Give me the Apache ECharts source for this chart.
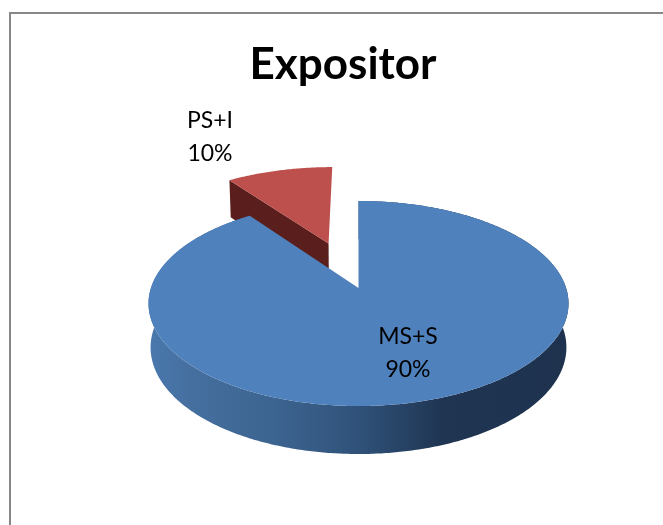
<!DOCTYPE html>
<html>
<head>
<meta charset="utf-8">
<title>Expositor</title>
<style>
  html, body { margin: 0; padding: 0; background: #fff; }
  #main { width: 663px; height: 525px; }
</style>
</head>
<body>
<div id="main"></div>
<script src="https://cdn.jsdelivr.net/npm/echarts@6/dist/echarts.min.js"></script>
<script>
var categories = ['MS+S', 'PS+I'];
var seriesValues = [90, 10];

var chartTitle = 'Expositor';
var fontName = 'Lato, "Open Sans", sans-serif';

// how far each slice is pulled out, in radius units
var sliceExplode = [0, 0.5];
var topColors = ['#4f81bd', '#bd4f4c'];
var cutColors = ['#1f3350', '#5a1f1c'];
var labelPos = [[408, 353], [210, 137]];

// perspective of the pie disc
var view = { cx: 358.5, cy: 288, rx: 207.6, ry: 100.2, persp: 0.151, shrink: 0.99 };

var wallGradient = new echarts.graphic.LinearGradient(0, 0, 1, 0, [
  { offset: 0, color: '#4a78ae' },
  { offset: 0.1, color: '#456f9f' },
  { offset: 0.3, color: '#3c6490' },
  { offset: 0.5, color: '#30527a' },
  { offset: 0.7, color: '#1f3552' },
  { offset: 1, color: '#1e324e' }
]);

// disc coords to screen, level 1 is the underside of the pie
function project(x, z, level) {
  var d = 1 - view.persp * z;
  var sx = view.rx * x / d;
  var sy = view.ry * z / d;
  if (level) {
    return [view.cx + sx * view.shrink, view.cy + sy + 43.2 + 4.8 * z];
  }
  return [view.cx + sx, view.cy + sy];
}

function renderSlice(params, api) {
  var i = params.dataIndex;
  var total = 0, before = 0;
  for (var k = 0; k < seriesValues.length; k++) {
    total += seriesValues[k];
    if (k < i) before += seriesValues[k];
  }
  var value = api.value(0);
  var a0 = before / total * Math.PI * 2;
  var a1 = (before + value) / total * Math.PI * 2;
  var mid = (a0 + a1) / 2;
  var ax = Math.sin(mid) * sliceExplode[i];
  var az = -Math.cos(mid) * sliceExplode[i];

  var topRim = [], lowRim = [];
  var steps = Math.ceil((a1 - a0) / 0.01);
  for (var s = 0; s <= steps; s++) {
    var a = a0 + (a1 - a0) * s / steps;
    topRim.push(project(ax + Math.sin(a), az - Math.cos(a), 0));
    lowRim.push(project(ax + Math.sin(a), az - Math.cos(a), 1));
  }
  var apexTop = project(ax, az, 0);
  var apexLow = project(ax, az, 1);
  var base = i === 0 ? 10 : 0;

  var children = [{
    type: 'polygon',
    z2: base + 1,
    shape: { points: [apexTop, topRim[0], lowRim[0], apexLow] },
    style: { fill: cutColors[i] }
  }, {
    type: 'polygon',
    z2: base + 2,
    shape: { points: [apexTop].concat(topRim) },
    style: { fill: topColors[i] }
  }, {
    type: 'text',
    z2: 30,
    style: {
      text: categories[i] + '\n' + Math.round(value / total * 100) + '%',
      x: labelPos[i][0],
      y: labelPos[i][1],
      textAlign: 'center',
      textVerticalAlign: 'middle',
      fontFamily: fontName,
      fontSize: 23,
      lineHeight: 33,
      fill: '#000'
    }
  }];
  // the outer wall only shows when the slice reaches the front of the pie
  if (a0 < Math.PI && a1 > Math.PI) {
    children.push({
      type: 'polygon',
      z2: base,
      shape: { points: topRim.concat(lowRim.slice().reverse()) },
      style: { fill: wallGradient }
    });
  }
  return { type: 'group', children: children };
}

var chart = echarts.init(document.getElementById('main'));
chart.setOption({
  animation: false,
  backgroundColor: '#fff',
  title: {
    text: chartTitle,
    left: 338,
    top: 38,
    textAlign: 'center',
    textStyle: { fontFamily: fontName, fontSize: 44, fontWeight: 'bold', color: '#000' }
  },
  graphic: [{
    type: 'polyline',
    silent: true,
    shape: { points: [[10, 525], [10, 13], [663, 13]] },
    style: { stroke: '#878787', lineWidth: 2, fill: null }
  }],
  series: [{
    type: 'custom',
    coordinateSystem: 'none',
    renderItem: renderSlice,
    data: seriesValues
  }]
});
</script>
</body>
</html>
